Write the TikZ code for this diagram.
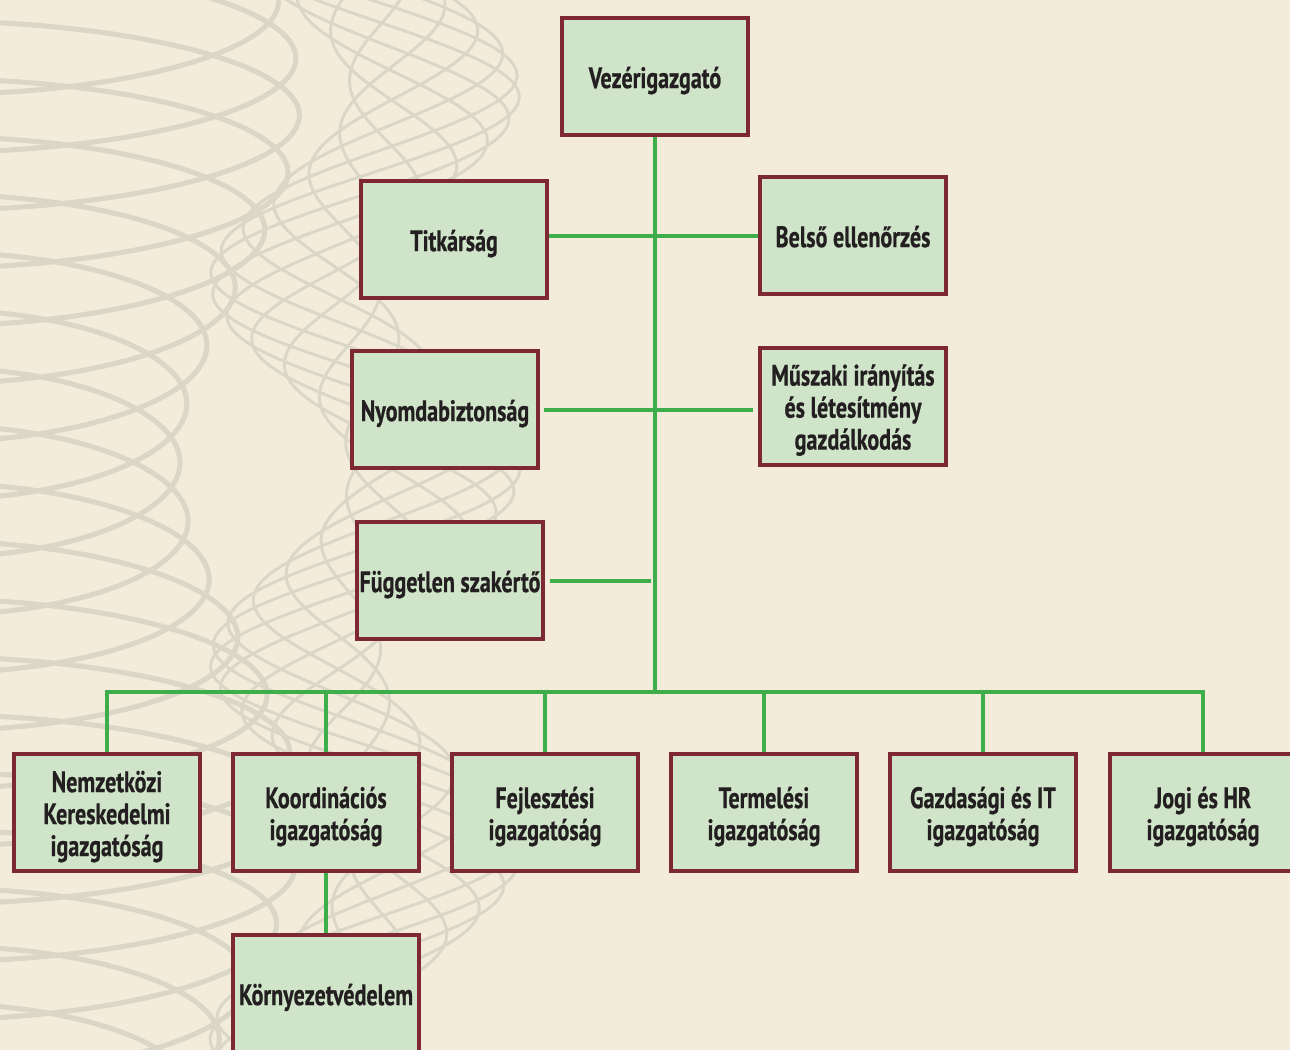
\documentclass[tikz,border=0pt]{standalone}
\usepackage{fontspec}
\newfontfamily\boxfont{PT Sans}[FakeStretch=0.745,FakeBold=0.6]
\definecolor{bg}{HTML}{F3ECDA}
\definecolor{boxfill}{HTML}{CFE4C8}
\definecolor{boxline}{HTML}{7D2832}
\definecolor{conn}{HTML}{3DAE4A}
\definecolor{spiro}{HTML}{DAD6C8}
\definecolor{txt}{HTML}{231F20}
\newcommand{\unittext}[1]{\raisebox{-3.9pt}[\height][\depth]{\begin{tabular}{@{}c@{}}#1\end{tabular}}}
\tikzset{
  unit/.style={draw=boxline, fill=boxfill, line width=3pt, minimum width=139.5pt,
    minimum height=87.75pt, inner sep=0pt, text=txt,
    font=\boxfont\bfseries\fontsize{22.2}{24}\selectfont},
  link/.style={draw=conn, line width=3pt}
}
\begin{document}
\begin{tikzpicture}[x=0.75pt,y=-0.75pt]
\useasboundingbox (0,0) rectangle (1290,1050);
\clip (0,0) rectangle (1290,1050);
\fill[bg] (0,0) rectangle (1290,1050);
% decorative guilloche background
\draw[spiro, line width=3.8pt] plot[variable=\t, domain=-2:122, samples=1100, smooth]
  ({-40 + (280+60*cos((\t*9.2-100)*0.5))*cos(\t r)}, {\t*9.2 + 80*sin(\t r)});
\foreach \k in {0,...,8}
  \draw[spiro, line width=2.2pt] plot[variable=\y, domain=-20:1070, samples=160, smooth]
    ({365 + 70*cos((\y-470)*0.947) + 85*sin(\y*1.3 + \k*40)}, {\y});
% units
\node[unit] (vez) at (655,76.5) {\unittext{Vezérigazgató}};
\node[unit] (tit) at (454,239.5) {\unittext{Titkárság}};
\node[unit] (bel) at (853,235.5) {\unittext{Belső ellenőrzés}};
\node[unit] (nyo) at (445,409.5) {\unittext{Nyomdabiztonság}};
\node[unit] (mus) at (853,406) {\unittext{Műszaki irányítás\\és létesítmény\\gazdálkodás}};
\node[unit] (fug) at (450,580.5) {\unittext{Független szakértő}};
\node[unit] (nem) at (107,812.5) {\unittext{Nemzetközi\\Kereskedelmi\\igazgatóság}};
\node[unit] (koo) at (326,812.5) {\unittext{Koordinációs\\igazgatóság}};
\node[unit] (fej) at (545,812.5) {\unittext{Fejlesztési\\igazgatóság}};
\node[unit] (ter) at (764,812.5) {\unittext{Termelési\\igazgatóság}};
\node[unit] (gaz) at (983,812.5) {\unittext{Gazdasági és IT\\igazgatóság}};
\node[unit] (jog) at (1203,812.5) {\unittext{Jogi és HR\\igazgatóság}};
\node[unit] (kor) at (326,993.5) {\unittext{Környezetvédelem}};
% connectors
\coordinate (bus) at (655,692);
\draw[link] (vez.south) -- (bus);
\draw[link] (tit.east |- bel.west) -- (bel.west);
\draw[link, shorten <=3pt, shorten >=3.5pt] (nyo.east) -- (nyo.east -| mus.west);
\draw[link, shorten <=3.5pt, shorten >=3pt] (fug.east) -- (fug.east -| vez.south);
\draw[link] (nem.north) |- (bus) -| (jog.north);
\foreach \n in {koo,fej,ter,gaz}
  \draw[link] (\n.north) -- (\n.north |- bus);
\draw[link] (koo.south) -- (kor.north);
\end{tikzpicture}
\end{document}
